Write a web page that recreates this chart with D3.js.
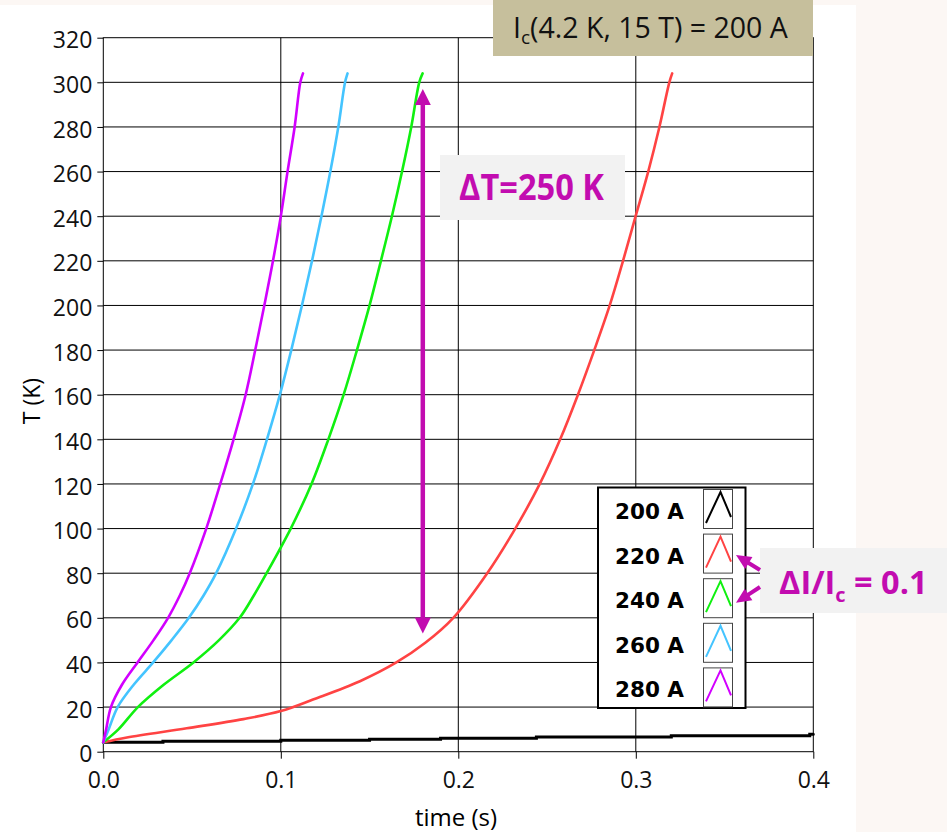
<!DOCTYPE html>
<html>
<head>
<meta charset="utf-8">
<script src="https://cdn.jsdelivr.net/npm/d3@7"></script>
<style>
  body { margin: 0; background: #fcf7f4; }
  svg { display: block; }
</style>
</head>
<body>
<div id="chart"></div>
<script>
// series: time (s) and temperature (K)
const seriesNames = ['200 A', '220 A', '240 A', '260 A', '280 A']
const seriesColors = ['#000000', '#ff4343', '#10f010', '#44c4ff', '#d200ff']

const time200 = [0, 0.0336, 0.1, 0.15, 0.19, 0.244, 0.32, 0.398, 0.4]
const temp200 = [4.2, 4.65, 5.1, 5.55, 6.0, 6.6, 7.2, 7.8, 7.8]

const time220 = [0, 0.0133, 0.047, 0.079, 0.1, 0.1185, 0.1446, 0.1651, 0.1814, 0.1972, 0.2163, 0.2321, 0.2459, 0.2574, 0.2674, 0.2766, 0.2853, 0.2928, 0.2999, 0.307, 0.3133, 0.3189, 0.3205]
const temp220 = [4.2, 6.4, 10.5, 14.6, 18.2, 23.5, 31.6, 40, 48.8, 60, 80, 100, 120, 140, 160, 180, 200, 220, 240, 260, 280, 300, 304]

const time240 = [0, 0.0085, 0.0195, 0.034, 0.0508, 0.0652, 0.0768, 0.0848, 0.092, 0.1056, 0.1173, 0.1268, 0.1354, 0.1429, 0.15, 0.1564, 0.1626, 0.1683, 0.1735, 0.178, 0.1799]
const temp240 = [4.2, 10, 20, 30, 40, 50, 60, 70, 80, 100, 120, 140, 160, 180, 200, 220, 240, 260, 280, 300, 304]

const time260 = [0, 0.003, 0.0081, 0.0171, 0.0281, 0.0385, 0.0482, 0.0565, 0.0636, 0.0748, 0.0843, 0.0922, 0.0995, 0.1059, 0.1119, 0.1176, 0.1229, 0.1279, 0.1324, 0.1362, 0.1376]
const temp260 = [4.2, 10, 20, 30, 40, 50, 60, 70, 80, 100, 120, 140, 160, 180, 200, 220, 240, 260, 280, 300, 304]

const time280 = [0, 0.0016, 0.0043, 0.0105, 0.0193, 0.0283, 0.0365, 0.0431, 0.0487, 0.058, 0.0659, 0.0734, 0.0802, 0.0856, 0.0907, 0.0956, 0.1, 0.1038, 0.1078, 0.111, 0.1125]
const temp280 = [4.2, 10, 20, 30, 40, 50, 60, 70, 80, 100, 120, 140, 160, 180, 200, 220, 240, 260, 280, 300, 304]

const xTicks = [0, 0.1, 0.2, 0.3, 0.4]
const yTicks = d3.range(0, 321, 20)

// annotation: ΔT arrow (time, top temp, bottom temp)
const deltaT = { time: 0.18, top: 297, bottom: 53 }

const width = 947
const height = 832
const plot = { left: 103.3, right: 813.3, top: 37.7, bottom: 751.7 }
const magenta = '#c20cb0'

const x = d3.scaleLinear().domain([0, 0.4]).range([plot.left, plot.right])
const y = d3.scaleLinear().domain([0, 320]).range([plot.bottom, plot.top])

const svg = d3
  .select('#chart')
  .append('svg')
  .attr('width', width)
  .attr('height', height)
  .attr('viewBox', [0, 0, width, height])

svg.append('rect').attr('width', width).attr('height', height).attr('fill', '#fcf7f4')
svg.append('rect').attr('x', 0).attr('y', 5).attr('width', 856).attr('height', height - 5).attr('fill', '#fff')

// grid
svg
  .append('g')
  .selectAll('line')
  .data(yTicks.slice(1, -1))
  .join('line')
  .attr('x1', plot.left)
  .attr('x2', plot.right)
  .attr('y1', d => y(d))
  .attr('y2', d => y(d))
  .attr('stroke', '#000')
  .attr('stroke-width', 1)

svg
  .append('g')
  .selectAll('line')
  .data(xTicks.slice(1, -1))
  .join('line')
  .attr('x1', d => x(d))
  .attr('x2', d => x(d))
  .attr('y1', plot.top)
  .attr('y2', plot.bottom)
  .attr('stroke', '#000')
  .attr('stroke-width', 1)

svg
  .append('rect')
  .attr('x', plot.left)
  .attr('y', plot.top)
  .attr('width', plot.right - plot.left)
  .attr('height', plot.bottom - plot.top)
  .attr('fill', 'none')
  .attr('stroke', '#000')

// axes
svg
  .append('g')
  .attr('transform', `translate(${plot.left},0)`)
  .call(d3.axisLeft(y).tickValues(yTicks).tickSize(6).tickPadding(5).tickFormat(d3.format('d')))
  .call(g => g.select('.domain').remove())
  .call(g => g.selectAll('text').attr('dy', '0.44em').attr('font-size', 23).attr('font-family', 'Open Sans').attr('fill', '#111'))

svg
  .append('g')
  .attr('transform', `translate(0,${plot.bottom})`)
  .call(d3.axisBottom(x).tickValues(xTicks).tickSize(7).tickFormat(d3.format('.1f')))
  .call(g => g.select('.domain').remove())
  .call(g => g.selectAll('text').attr('y', 36).attr('dy', null).attr('font-size', 23).attr('font-family', 'Open Sans').attr('fill', '#111'))

svg
  .append('text')
  .attr('x', 456)
  .attr('y', 826)
  .attr('text-anchor', 'middle')
  .attr('font-family', 'Open Sans')
  .attr('font-size', 24)
  .text('time (s)')

svg
  .append('text')
  .attr('transform', 'translate(40,401) rotate(-90)')
  .attr('text-anchor', 'middle')
  .attr('font-family', 'Open Sans')
  .attr('font-size', 23)
  .text('T (K)')

// curves
const series = [
  { name: seriesNames[0], color: seriesColors[0], t: time200, T: temp200, step: true },
  { name: seriesNames[1], color: seriesColors[1], t: time220, T: temp220 },
  { name: seriesNames[2], color: seriesColors[2], t: time240, T: temp240 },
  { name: seriesNames[3], color: seriesColors[3], t: time260, T: temp260 },
  { name: seriesNames[4], color: seriesColors[4], t: time280, T: temp280 },
]

svg
  .append('g')
  .attr('fill', 'none')
  .attr('stroke-linecap', 'round')
  .selectAll('path')
  .data(series)
  .join('path')
  .attr('stroke', d => d.color)
  .attr('stroke-width', d => (d.step ? 3 : 2.6))
  .attr('d', d =>
    d3
      .line()
      .x(p => x(p[0]))
      .y(p => y(p[1]))
      .curve(d.step ? d3.curveStepAfter : d3.curveCatmullRom.alpha(0.5))(d.t.map((t, i) => [t, d.T[i]]))
  )

// arrow helper
function arrow(g, x1, y1, x2, y2, opts) {
  const { shaft = 4, headLen = 16, headWid = 16, both = false } = opts || {}
  const dx = x2 - x1
  const dy = y2 - y1
  const len = Math.hypot(dx, dy)
  const ux = dx / len
  const uy = dy / len
  const px = -uy
  const py = ux
  const head = (tx, ty, sx, sy) => {
    const bx = tx - sx * headLen
    const by = ty - sy * headLen
    return [
      [tx, ty],
      [bx + px * headWid / 2, by + py * headWid / 2],
      [bx - px * headWid / 2, by - py * headWid / 2],
    ]
  }
  const start = both ? [x1 + ux * headLen * 0.8, y1 + uy * headLen * 0.8] : [x1, y1]
  const end = [x2 - ux * headLen * 0.8, y2 - uy * headLen * 0.8]
  g.append('line')
    .attr('x1', start[0])
    .attr('y1', start[1])
    .attr('x2', end[0])
    .attr('y2', end[1])
    .attr('stroke', magenta)
    .attr('stroke-width', shaft)
  g.append('polygon').attr('points', head(x2, y2, ux, uy).join(' ')).attr('fill', magenta)
  if (both) g.append('polygon').attr('points', head(x1, y1, -ux, -uy).join(' ')).attr('fill', magenta)
}

const ann = svg.append('g')
arrow(ann, x(deltaT.time), y(deltaT.bottom), x(deltaT.time), y(deltaT.top), { shaft: 4.5, headLen: 16, headWid: 16, both: true })

// ΔT label
ann.append('rect').attr('x', 440).attr('y', 155).attr('width', 185).attr('height', 65).attr('fill', '#f2f2f2')
ann
  .append('text')
  .attr('x', 459)
  .attr('y', 200)
  .attr('font-family', 'Open Sans')
  .attr('font-weight', 'bold')
  .attr('font-size', 36)
  .attr('fill', magenta)
  .attr('textLength', 145)
  .attr('lengthAdjust', 'spacingAndGlyphs')
  .text('ΔT=250 K')

// title box
svg.append('rect').attr('x', 493).attr('y', 0).attr('width', 320).attr('height', 56).attr('fill', '#c6bf9c')
const title = svg
  .append('text')
  .attr('x', 513)
  .attr('y', 38)
  .attr('font-family', 'Open Sans')
  .attr('font-size', 28.5)
  .attr('fill', '#111')
title.append('tspan').text('I')
title.append('tspan').attr('font-size', 19).attr('dy', 5.5).text('c')
title.append('tspan').attr('dy', -5.5).text('(4.2 K, 15 T) = 200 A')

// legend
const legend = { x: 598, y: 487.5, w: 147.5, h: 220.5, rowTop: 489, rowStep: 44.6 }
const lg = svg.append('g')
lg.append('rect')
  .attr('x', legend.x)
  .attr('y', legend.y)
  .attr('width', legend.w)
  .attr('height', legend.h)
  .attr('fill', '#fff')
  .attr('stroke', '#000')
  .attr('stroke-width', 2)

const rows = lg
  .selectAll('g.row')
  .data(series)
  .join('g')
  .attr('class', 'row')
  .attr('transform', (d, i) => `translate(0,${legend.rowTop + i * legend.rowStep})`)

rows
  .append('text')
  .attr('x', 684)
  .attr('y', 30)
  .attr('text-anchor', 'end')
  .attr('font-family', 'DejaVu Sans')
  .attr('font-weight', 'bold')
  .attr('font-size', 21.5)
  .attr('fill', '#000')
  .text(d => d.name)

rows
  .append('rect')
  .attr('x', 703.5)
  .attr('y', 0.5)
  .attr('width', 29)
  .attr('height', 39)
  .attr('fill', '#fff')
  .attr('stroke', '#444')
  .attr('stroke-width', 1)

rows
  .append('path')
  .attr('d', 'M706,34 L720.5,3 L731,28')
  .attr('fill', 'none')
  .attr('stroke', d => d.color)
  .attr('stroke-width', 2)

// ΔI/Ic label, drawn above the legend
const ann2 = svg.append('g')
ann2.append('rect').attr('x', 760).attr('y', 548).attr('width', 187).attr('height', 65).attr('fill', '#f2f2f2')
const di = ann2
  .append('text')
  .attr('x', 779)
  .attr('y', 593.5)
  .attr('font-family', 'Open Sans')
  .attr('font-weight', 'bold')
  .attr('font-size', 32.5)
  .attr('fill', magenta)
di.append('tspan').text('ΔI/I')
di.append('tspan').attr('font-size', 20).attr('dy', 8).text('c')
di.append('tspan').attr('dy', -8).text(' = 0.1')

const row2 = legend.rowTop + legend.rowStep + 20
const row3 = legend.rowTop + 2 * legend.rowStep + 20
arrow(ann2, 760, 570, 736, row2 + 1.5, { shaft: 4, headLen: 15, headWid: 14 })
arrow(ann2, 760, 587, 736, row3 + 4.5, { shaft: 4, headLen: 15, headWid: 14 })
</script>
</body>
</html>
